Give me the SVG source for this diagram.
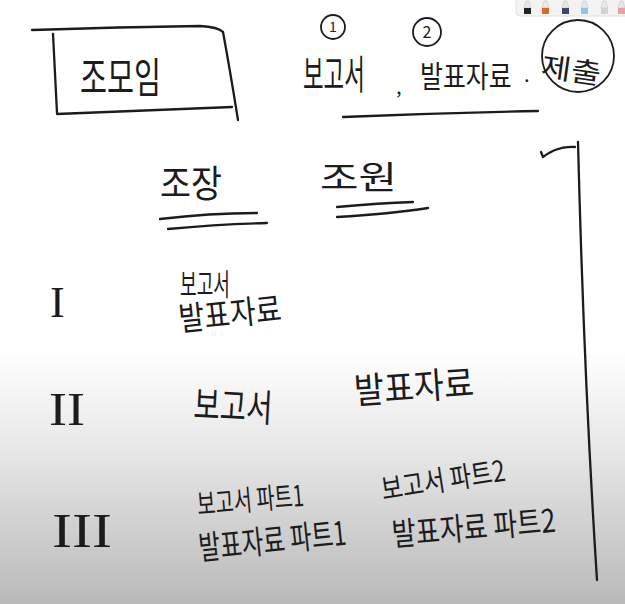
<svg xmlns="http://www.w3.org/2000/svg" width="625" height="604" viewBox="0 0 625 604">
<defs>
<linearGradient id="bg" x1="0" y1="0" x2="0" y2="1">
<stop offset="0" stop-color="#ffffff"/>
<stop offset="0.58" stop-color="#ffffff"/>
<stop offset="0.75" stop-color="#e6e6e6"/>
<stop offset="1" stop-color="#b9b9b9"/>
</linearGradient>
</defs>
<style>
.hw{font-family:"Noto Sans CJK KR","Noto Sans",sans-serif;fill:#1c1c1c;}
.rn{font-family:"Liberation Serif","DejaVu Serif",serif;fill:#1c1c1c;}
.ln{fill:none;stroke:#1c1c1c;stroke-width:2.3;stroke-linecap:round;stroke-linejoin:round;}
.thin{fill:none;stroke:#1c1c1c;stroke-width:1.8;}
.tip{fill:#e8e8e8;stroke:#c8c8c8;stroke-width:0.6;}
</style>
<rect x="0" y="0" width="625" height="604" fill="url(#bg)"/>

<g id="toolbar">
<rect x="516" y="-8" width="116" height="24" rx="4" fill="#f3f3f3" stroke="#e0e0e0"/>
<path class="tip" d="M524 8 L526 1 L529 1 L531 8 Z"/><rect x="524" y="8" width="7" height="6" fill="#222"/>
<path class="tip" d="M542 8 L544 1 L547 1 L549 8 Z"/><rect x="542" y="8" width="7" height="6" fill="#e0662a"/>
<path class="tip" d="M562 8 L564 1 L567 1 L569 8 Z"/><rect x="562" y="8" width="7" height="6" fill="#3b4a6b"/>
<path class="tip" d="M581 8 L583 1 L586 1 L588 8 Z"/><rect x="581" y="8" width="7" height="6" fill="#8cc4ee"/>
<path class="tip" d="M601 8 L603 1 L606 1 L608 8 Z"/><rect x="601" y="8" width="7" height="6" fill="#d2d2d2"/>
<path class="tip" d="M618 8 L620 1 L623 1 L625 8 Z"/><rect x="618" y="8" width="7" height="6" fill="#e6a0a8"/>
</g>

<g id="connectors">
<path class="ln" d="M32 30 Q120 27 200 26 Q218 27 223 32"/>
<path class="ln" d="M53 34 Q55 75 57 113"/>
<path class="ln" d="M57 114 Q150 110 232 107"/>
<path class="ln" d="M223 32 Q230 70 238 120"/>
<path class="ln" d="M343 117 Q440 113 538 111"/>
<path class="ln" d="M160 219 Q210 213 257 213"/>
<path class="ln" d="M168 229 Q220 224 267 223"/>
<path class="ln" d="M337 207 Q380 203 413 202"/>
<path class="ln" d="M337 217 Q390 214 428 208"/>
<path class="ln" d="M541 152 L543 157 Q550 152 555 150 Q565 146 575 147"/>
<path class="ln" d="M578 142 Q584 380 597 580"/>
</g>

<g id="title">
<text class="hw" font-size="42" transform="translate(80 93) scale(0.7 1)">조모임</text>
</g>

<g id="item1">
<circle class="thin" cx="333" cy="27" r="12"/>
<text class="hw" x="333" y="32" font-size="14" text-anchor="middle">1</text>
<text class="hw" font-size="40" transform="translate(303 89) scale(0.56 1)">보고서</text>
<text class="hw" x="396" y="94" font-size="20">,</text>
</g>

<g id="item2">
<circle class="thin" cx="427" cy="32" r="14"/>
<text class="hw" x="427" y="38" font-size="16" text-anchor="middle">2</text>
<text class="hw" font-size="30" transform="translate(420 87) scale(0.83 1)">발표자료</text>
<text class="hw" x="524" y="82" font-size="20">.</text>
</g>

<g id="submit">
<circle class="thin" cx="578" cy="56" r="36"/>
<text class="hw" x="540" y="76" font-size="28" textLength="60" lengthAdjust="spacingAndGlyphs" transform="rotate(8 540 76)">제출</text>
</g>

<g id="leader">
<text class="hw" x="160" y="197" font-size="38" textLength="62" lengthAdjust="spacingAndGlyphs">조장</text>
</g>
<g id="member">
<text class="hw" x="320" y="189" font-size="32" textLength="77" lengthAdjust="spacingAndGlyphs">조원</text>
</g>

<g id="row1">
<text class="rn" x="50" y="317" font-size="44">I</text>
<text class="hw" x="180" y="295" font-size="30" textLength="50" lengthAdjust="spacingAndGlyphs">보고서</text>
<text class="hw" x="180" y="331" font-size="33" textLength="103" lengthAdjust="spacingAndGlyphs" transform="rotate(-6 180 331)">발표자료</text>
</g>

<g id="row2">
<text class="rn" x="49" y="425" font-size="46" textLength="36" lengthAdjust="spacingAndGlyphs">II</text>
<text class="hw" x="193" y="418" font-size="38" textLength="79" lengthAdjust="spacingAndGlyphs" transform="rotate(3 193 418)">보고서</text>
<text class="hw" x="355" y="404" font-size="36" textLength="120" lengthAdjust="spacingAndGlyphs" transform="rotate(-4 355 404)">발표자료</text>
</g>

<g id="row3">
<text class="rn" x="52" y="547" font-size="48" textLength="60" lengthAdjust="spacingAndGlyphs">III</text>
<text class="hw" x="198" y="515" font-size="29" textLength="107" lengthAdjust="spacingAndGlyphs" transform="rotate(-5 198 515)">보고서 파트1</text>
<text class="hw" x="200" y="560" font-size="33" textLength="148" lengthAdjust="spacingAndGlyphs" transform="rotate(-6 200 560)">발표자료 파트1</text>
<text class="hw" x="383" y="500" font-size="29" textLength="125" lengthAdjust="spacingAndGlyphs" transform="rotate(-9 383 500)">보고서 파트2</text>
<text class="hw" x="393" y="546" font-size="32" textLength="164" lengthAdjust="spacingAndGlyphs" transform="rotate(-5 393 546)">발표자료 파트2</text>
</g>
</svg>
